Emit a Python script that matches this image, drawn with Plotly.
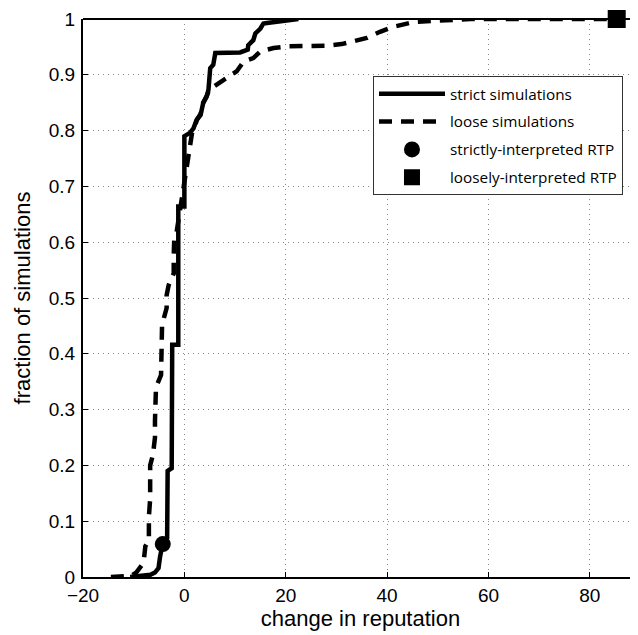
import plotly.graph_objects as go

# strict simulations (solid CDF)
strict_x = [-10.7, -6.7, -5.8, -5.1, -4.8, -4.3, -3.4, -3.3, -2.5, -2.4, -1.2, -1.2, 0.0, 0.0,
            1.1, 1.8, 2.4, 3.2, 3.7, 4.4, 4.75, 5.1, 5.4, 5.7, 6.1, 11.0, 12.5, 12.6, 13.6,
            14.0, 15.0, 15.6, 16.3, 20.2, 22.5]
strict_y = [0.0, 0.004, 0.008, 0.016, 0.036, 0.059, 0.07, 0.19, 0.195, 0.416, 0.416, 0.664, 0.664, 0.79,
            0.796, 0.804, 0.819, 0.828, 0.849, 0.861, 0.873, 0.912, 0.915, 0.918, 0.939, 0.940, 0.945, 0.953, 0.962,
            0.974, 0.983, 0.992, 0.993, 0.998, 1.0]

# loose simulations (dashed CDF)
loose_x = [-14.5, -10.5, -9.5, -8.9, -8.4, -8.0, -7.7, -7.0, -7.0, -6.75, -6.75, -6.2, -5.8, -5.8,
           -5.6, -5.6, -4.6, -4.5, -4.4, -4.4, -3.5, -3.5, -3.1, -2.1, -2.1, -2.0, -1.5, -0.5, 0.0,
           0.7, 1.1, 1.5, 2.0, 2.5, 3.2, 3.7, 4.4, 5.0, 6.0, 7.4, 10.3, 11.7, 13.6, 15.0, 17.6,
           20.5, 27.8, 31.0, 33.5, 36.0, 38.6, 41.2, 45.5, 48.8, 53.0, 56.5, 85.3]
loose_y = [0.0, 0.002, 0.008, 0.016, 0.021, 0.03, 0.055, 0.066, 0.108, 0.14, 0.2, 0.219, 0.25, 0.28,
           0.312, 0.34, 0.362, 0.392, 0.425, 0.452, 0.482, 0.505, 0.523, 0.544, 0.577, 0.604, 0.62, 0.68, 0.70,
           0.747, 0.765, 0.795, 0.806, 0.82, 0.83, 0.85, 0.862, 0.875, 0.88, 0.888, 0.906, 0.924, 0.930, 0.942, 0.948,
           0.951, 0.952, 0.955, 0.961, 0.966, 0.977, 0.986, 0.995, 0.997, 0.998, 1.0, 1.0]

# RTP points
strict_rtp_x = [-4.26]
strict_rtp_y = [0.059]
loose_rtp_x = [85.3]
loose_rtp_y = [1.0]

x_ticks = [-20, 0, 20, 40, 60, 80]
y_ticks = [0, 0.1, 0.2, 0.3, 0.4, 0.5, 0.6, 0.7, 0.8, 0.9, 1]
y_tick_labels = ["0", "0.1", "0.2", "0.3", "0.4", "0.5", "0.6", "0.7", "0.8", "0.9", "1"]

names = ["strict simulations", "loose simulations",
         "strictly-interpreted RTP", "loosely-interpreted RTP"]

fig = go.Figure()
fig.add_trace(go.Scatter(x=strict_x, y=strict_y, mode="lines", name=names[0],
                         legendgroup="a", line=dict(color="black", width=4.5)))
fig.add_trace(go.Scatter(x=loose_x, y=loose_y, mode="lines", name=names[1],
                         legendgroup="b", line=dict(color="black", width=4.5, dash="13px,9px")))
fig.add_trace(go.Scatter(x=strict_rtp_x, y=strict_rtp_y, mode="markers", name=names[2],
                         legendgroup="c", marker=dict(symbol="circle", size=16, color="black")))
fig.add_trace(go.Scatter(x=loose_rtp_x, y=loose_rtp_y, mode="markers", name=names[3],
                         legendgroup="d", marker=dict(symbol="square", size=18, color="black"),
                         cliponaxis=False))

fam = "Liberation Sans, Arial, sans-serif"
axis_font = dict(family=fam, size=19, color="black")

fig.update_layout(
    width=630, height=627,
    margin=dict(l=75, r=0, t=11, b=58),
    paper_bgcolor="white", plot_bgcolor="white",
    font=axis_font,
    showlegend=True,
    legend=dict(
        x=0.5225, y=0.8975, xanchor="left", yanchor="top",
        bordercolor="#333", borderwidth=1, bgcolor="white",
        font=dict(family="Open Sans, Noto Sans, sans-serif", size=15.3, color="black"),
        tracegroupgap=5, itemwidth=66,
    ),
    xaxis=dict(
        range=[-20, 89.5], tickvals=x_ticks, ticks="inside", ticklen=5, tickcolor="black",
        showline=True, linecolor="black", linewidth=2,
        showgrid=True, gridcolor="#888", gridwidth=1, griddash="1px,4px",
        zeroline=False, tickfont=axis_font,
        title=dict(text="change in reputation", font=dict(family=fam, size=22, color="black"), standoff=6),
    ),
    yaxis=dict(
        range=[0, 1], tickvals=y_ticks, ticktext=y_tick_labels, ticks="inside", ticklen=5, tickcolor="black",
        showline=True, linecolor="black", linewidth=2,
        showgrid=True, gridcolor="#888", gridwidth=1, griddash="1px,4px",
        zeroline=False, tickfont=axis_font, ticklabelstandoff=2,
        title=dict(text="fraction of simulations", font=dict(family=fam, size=22, color="black"), standoff=12),
    ),
    shapes=[dict(type="line", xref="paper", yref="paper", x0=0, x1=1, y0=1, y1=1,
                 line=dict(color="black", width=2))],
)

fig.write_html("out.html")
